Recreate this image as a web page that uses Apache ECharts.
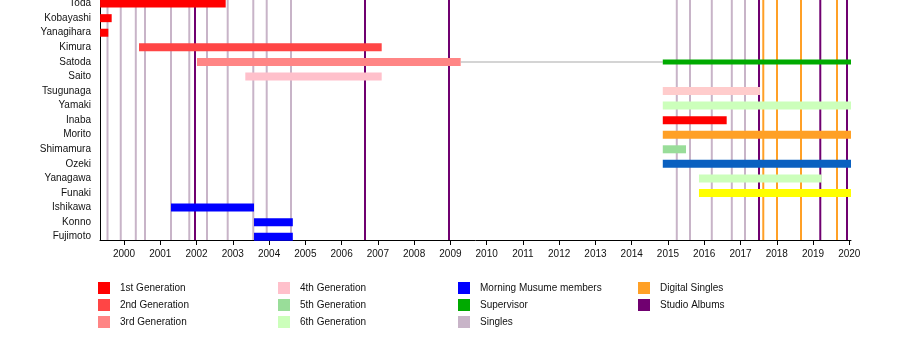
<!DOCTYPE html>
<html><head><meta charset="utf-8">
<script src="https://cdn.jsdelivr.net/npm/echarts@6/dist/echarts.min.js"></script>
<style>html,body{margin:0;padding:0;background:#fff}#c{width:900px;height:360px}</style>
</head><body><div id="c"></div>
<script>
// ---------- DATA ----------
const members = ['Toda','Kobayashi','Yanagihara','Kimura','Satoda','Saito','Tsugunaga','Yamaki','Inaba','Morito','Shimamura','Ozeki','Yanagawa','Funaki','Ishikawa','Konno','Fujimoto'];
const yearTicks = [2000,2001,2002,2003,2004,2005,2006,2007,2008,2009,2010,2011,2012,2013,2014,2015,2016,2017,2018,2019,2020];

const periodMember = ['Toda','Kobayashi','Yanagihara','Kimura','Satoda','Satoda','Satoda','Saito','Tsugunaga','Yamaki','Inaba','Morito','Shimamura','Ozeki','Yanagawa','Funaki','Ishikawa','Konno','Fujimoto'];
const periodStart  = [1999.34,1999.34,1999.34,2000.414,2002.013,2009.284,2014.857,2003.345,2014.857,2014.857,2014.857,2014.857,2014.857,2014.857,2015.855,2015.855,2001.296,2003.585,2003.585];
const periodEnd    = [2002.804,1999.66,1999.567,2007.106,2009.284,2014.857,2020.047,2007.106,2017.537,2020.047,2016.619,2020.047,2015.497,2020.047,2019.239,2020.047,2003.585,2004.655,2004.655];
const periodKind   = ['gen1','gen1','gen1','gen2','gen3','gap','supervisor','gen4','tsugunaga','yamaki','inaba','morito','shimamura','ozeki','yanagawa','funaki','mm','mm','mm'];

const singles        = [1999.545,1999.91,2000.325,2000.579,2001.296,2001.80,2002.289,2002.859,2003.565,2003.935,2004.605,2015.243,2015.607,2016.208,2016.760,2017.124];
const digitalSingles = [2017.628,2018.006,2018.668,2019.661];
const studioAlbums   = [2001.958,2006.645,2008.962,2017.510,2019.200,2019.936];

const legendCols = [
  ['1st Generation','2nd Generation','3rd Generation'],
  ['4th Generation','5th Generation','6th Generation'],
  ['Morning Musume members','Supervisor','Singles'],
  ['Digital Singles','Studio Albums']
];

// ---------- STYLE ----------
const kindColor = {
  gen1:'#ff0000', gen2:'#ff4545', gen3:'#ff8585', gen4:'#ffc0cb', gap:'#aaaaaa',
  supervisor:'#00aa00', tsugunaga:'#ffcccc', yamaki:'#ccffbb', inaba:'#ff0000',
  morito:'#ffa026', shimamura:'#99dd99', ozeki:'#0a60c0', yanagawa:'#ccffbb',
  funaki:'#ffff00', mm:'#0000ff'
};
const kindHeight = {gap:1, supervisor:5};
const legendColor = {
  '1st Generation':'#ff0000','2nd Generation':'#ff4545','3rd Generation':'#ff8585',
  '4th Generation':'#ffc0cb','5th Generation':'#99dd99','6th Generation':'#ccffbb',
  'Morning Musume members':'#0000ff','Supervisor':'#00aa00','Singles':'#c8b4c8',
  'Digital Singles':'#ffa026','Studio Albums':'#700070'
};
const lineColor = ['#c8b4c8','#ffa026','#700070'];
const FONT = '"Liberation Sans", Arial, sans-serif';
const X_MIN = 1999.338, X_MAX = 2020.047, Y_MIN = -0.247, Y_MAX = 16.226;

// ---------- BUILD ----------
const barData = periodMember.map((m,i)=>[members.indexOf(m), periodStart[i], periodEnd[i], i]);
const lineData = []
  .concat(singles.map(v=>[v,0]))
  .concat(digitalSingles.map(v=>[v,1]))
  .concat(studioAlbums.map(v=>[v,2]));

const chart = echarts.init(document.getElementById('c'), null, {renderer:'canvas'});

const legendSeries = legendCols.flat().map(n=>({
  type:'scatter', name:n, data:[], itemStyle:{color:legendColor[n], opacity:1}
}));

const legends = legendCols.map((col,ci)=>({
  data: col, orient:'vertical', left: 98 + ci*180, top: 282,
  itemWidth:12, itemHeight:12, itemGap:5, icon:'rect', padding:0,
  selectedMode:false,
  itemStyle:{opacity:1},
  textStyle:{fontFamily:FONT, fontSize:10, color:'#111', padding:[0,0,0,5], lineHeight:12}
}));

chart.setOption({
  animation:false,
  backgroundColor:'#fff',
  grid:{left:100, top:0, width:751, height:240, containLabel:false, outerBoundsMode:'none'},
  legend: legends,
  xAxis:{
    type:'value', min:X_MIN, max:X_MAX,
    axisLine:{show:true, onZero:false, lineStyle:{color:'#000', width:1}},
    axisTick:{show:true, customValues:yearTicks, length:5, lineStyle:{color:'#000'}},
    axisLabel:{show:true, customValues:yearTicks, formatter:v=>String(Math.round(v)),
      fontFamily:FONT, fontSize:10, color:'#111', margin:9},
    splitLine:{show:false}
  },
  yAxis:{
    type:'value', inverse:true, min:Y_MIN, max:Y_MAX,
    axisLine:{show:true, onZero:false, lineStyle:{color:'#000', width:1}},
    axisTick:{show:false},
    axisLabel:{show:true, customValues:members.map((m,i)=>i), formatter:v=>members[Math.round(v)],
      fontFamily:FONT, fontSize:10, color:'#111', margin:9, padding:[2,0,0,0]},
    splitLine:{show:false}
  },
  series:[
    {
      type:'custom', name:'lines', z:1, silent:true,
      data: lineData, encode:{x:0},
      renderItem:(params, api)=>{
        const x = api.value(0), k = api.value(1);
        const p0 = api.coord([x, Y_MIN]), p1 = api.coord([x, Y_MAX]);
        return {type:'line', shape:{x1:p0[0], y1:p0[1], x2:p1[0], y2:p1[1]},
          style:{stroke:lineColor[k], lineWidth:2}};
      }
    },
    {
      type:'custom', name:'bars', z:3, silent:true,
      data: barData, encode:{x:[1,2], y:0},
      renderItem:(params, api)=>{
        const row = api.value(0), s = api.value(1), e = api.value(2), idx = api.value(3);
        const kind = periodKind[idx];
        const p0 = api.coord([s,row]), p1 = api.coord([e,row]);
        const h = kindHeight[kind] || 8;
        return {type:'rect', shape:{x:p0[0], y:p0[1]-h/2, width:p1[0]-p0[0], height:h},
          style:{fill:kindColor[kind]}};
      }
    }
  ].concat(legendSeries)
});
</script></body></html>
